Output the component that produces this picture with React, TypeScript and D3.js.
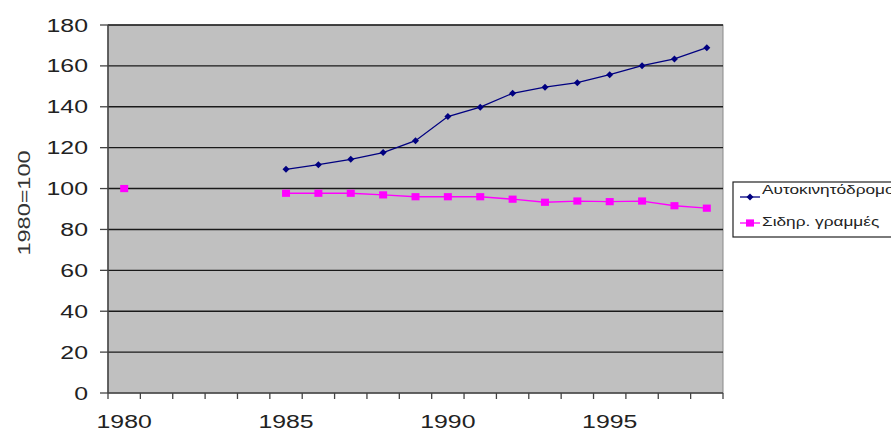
import React from "react";
import * as d3 from "d3";

const years: string[] = ["1980","1981","1982","1983","1984","1985","1986","1987","1988","1989","1990","1991","1992","1993","1994","1995","1996","1997","1998"];
const roadValues: (number | null)[] = [100, null, null, null, null, 109.4, 111.7, 114.3, 117.6, 123.4, 135.2, 139.8, 146.6, 149.6, 151.8, 155.7, 160.1, 163.4, 168.9];
const railValues: (number | null)[] = [100, null, null, null, null, 97.7, 97.7, 97.7, 96.9, 96.0, 96.0, 96.0, 94.8, 93.3, 93.9, 93.6, 93.9, 91.6, 90.4];
const yTicks: number[] = [0, 20, 40, 60, 80, 100, 120, 140, 160, 180];
const xLabels: string[] = ["1980", "1985", "1990", "1995"];
const seriesNames: string[] = ["Αυτοκινητόδρομοι", "Σιδηρ. γραμμές"];
const yTitle = "1980=100";

const W = 891, H = 432;
const L = 108, R = 723, T = 25, B = 393;
const FONT = "'Liberation Sans', Arial, sans-serif";
const SX = 1.38;
const DIAMOND = "M0,-3.5L3.5,0L0,3.5L-3.5,0Z";

export default function App() {
  const x = d3.scaleBand<string>().domain(years).range([L, R]).padding(0);
  const y = d3.scaleLinear().domain([0, 180]).range([B, T]);
  const cx = (yr: string) => (x(yr) as number) + x.bandwidth() / 2;

  type P = { yr: string; v: number | null };
  const line = d3.line<P>().defined(d => d.v != null).x(d => cx(d.yr)).y(d => y(d.v as number));
  const road: P[] = years.map((yr, i) => ({ yr, v: roadValues[i] }));
  const rail: P[] = years.map((yr, i) => ({ yr, v: railValues[i] }));

  const tickXs = d3.range(years.length + 1).map(i => L + i * x.bandwidth());

  return (
    <svg width={W} height={H} style={{ position: "absolute", left: 0, top: 0, background: "#fff" }}>
      <rect x={L} y={T} width={R - L} height={B - T} fill="#c0c0c0" stroke="#8a8a8a" strokeWidth={1} />
      {yTicks.filter(t => t > 0).map(t => (
        <line key={t} x1={L} x2={R} y1={y(t)} y2={y(t)} stroke="#1a1a1a" strokeWidth={1.4} />
      ))}
      <line x1={L} x2={L} y1={T} y2={B} stroke="#444" strokeWidth={1.5} />
      <line x1={L} x2={R} y1={B} y2={B} stroke="#444" strokeWidth={1.5} />
      {yTicks.map(t => (
        <g key={t}>
          <line x1={L - 8} x2={L} y1={y(t)} y2={y(t)} stroke="#444" strokeWidth={1.3} />
          <text transform={`translate(88,${y(t) + 6.5}) scale(${SX},1)`} textAnchor="end" fontFamily={FONT} fontSize={18} fill="#222">{t}</text>
        </g>
      ))}
      {tickXs.map((tx, i) => (
        <line key={i} x1={tx} x2={tx} y1={B} y2={B + 6} stroke="#444" strokeWidth={1.3} />
      ))}
      {xLabels.map(lb => (
        <text key={lb} transform={`translate(${cx(lb)},${428}) scale(${SX},1)`} textAnchor="middle" fontFamily={FONT} fontSize={18} fill="#222">{lb}</text>
      ))}
      <text transform={`translate(30,203) rotate(-90) scale(${SX},1)`} textAnchor="middle" fontFamily={FONT} fontSize={17} fill="#333">{yTitle}</text>

      <path d={line(road) as string} fill="none" stroke="#000080" strokeWidth={1.3} />
      {road.filter(d => d.v != null).map(d => (
        <path key={d.yr} d={DIAMOND} transform={`translate(${cx(d.yr)},${y(d.v as number)})`} fill="#000080" />
      ))}
      <path d={line(rail) as string} fill="none" stroke="#ff00ff" strokeWidth={1.3} />
      {rail.filter(d => d.v != null).map(d => (
        <rect key={d.yr} x={cx(d.yr) - 4} y={y(d.v as number) - 3.6} width={8} height={7.2} fill="#ff00ff" />
      ))}

      <rect x={733} y={182} width={170} height={55} fill="#fff" stroke="#222" strokeWidth={1.2} />
      <line x1={740} x2={760} y1={197} y2={197} stroke="#000080" strokeWidth={1.3} />
      <path d={DIAMOND} transform="translate(750,197)" fill="#000080" />
      <text transform={`translate(762,194) scale(1.38,1)`} fontFamily={FONT} fontSize={12.5} fill="#222">{seriesNames[0]}</text>
      <line x1={740} x2={760} y1={223} y2={223} stroke="#ff00ff" strokeWidth={1.3} />
      <rect x={746} y={219.4} width={8} height={7.2} fill="#ff00ff" />
      <text transform={`translate(762,226) scale(1.38,1)`} fontFamily={FONT} fontSize={12.5} fill="#222">{seriesNames[1]}</text>
    </svg>
  );
}
